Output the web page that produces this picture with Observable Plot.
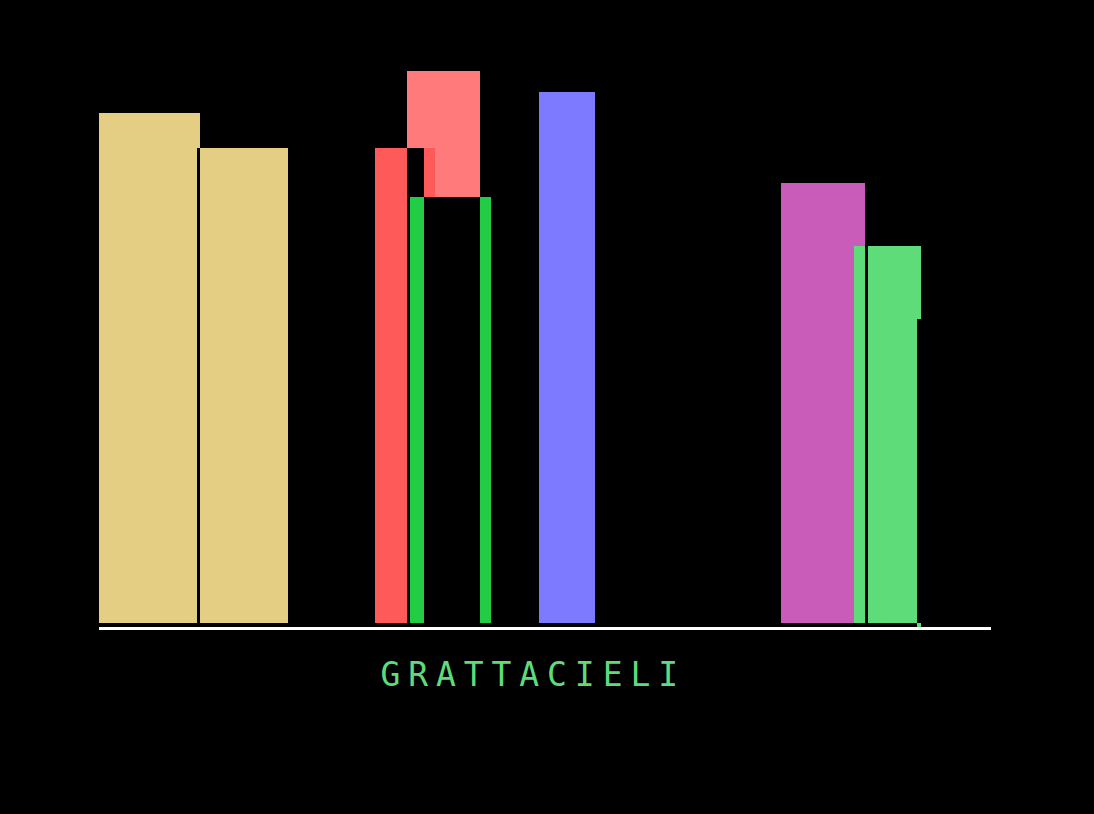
<!DOCTYPE html>
<html>
<head>
<meta charset="utf-8">
<script src="https://cdn.jsdelivr.net/npm/d3@7"></script>
<script src="https://cdn.jsdelivr.net/npm/@observablehq/plot@0.6"></script>
<style>
  html, body { margin: 0; padding: 0; background: #000; }
  #chart svg { display: block; }
</style>
</head>
<body>
<div id="chart"></div>
<script>
// Skyscraper pieces, drawn in order (later pieces paint over earlier ones).
// x in horizontal units, y as height above the ground line.
const pieceName   = ["tan tall", "tan gap", "tan short", "pink top", "red tower", "red window", "green frame", "green hollow", "blue tower", "purple tower", "light green", "light green gap", "light green notch", "light green foot", "ground"];
const pieceX1     = [99, 197, 200, 407, 375, 407, 410, 424, 539, 781, 854, 865, 917, 917, 99];
const pieceX2     = [200, 200, 288, 480, 435, 424, 491, 480, 595, 865, 921, 868, 921, 921, 991];
const pieceTop    = [510, 475, 475, 552, 475, 475, 426, 426, 531, 440, 377, 377, 304, 0, -4];
const pieceBottom = [0, 0, 0, 426, 0, 0, 0, 0, 0, 0, 0, 0, 0, -4, -7];
const pieceColor  = ["#e3ce84", "#000000", "#e3ce84", "#ff7a7a", "#ff5a5a", "#000000", "#22cc44", "#000000", "#7e7aff", "#c85cb8", "#5edc7a", "#000000", "#000000", "#5edc7a", "#ffffff"];

const titleText = ["GRATTACIELI"];
const titleX = [380];
const titleY = [-52];

const pieces = pieceName.map((n, i) => ({
  name: n, x1: pieceX1[i], x2: pieceX2[i], y1: pieceBottom[i], y2: pieceTop[i], color: pieceColor[i]
}));
const titles = titleText.map((t, i) => ({text: t, x: titleX[i], y: titleY[i]}));

const chart = Plot.plot({
  width: 1094,
  height: 814,
  margin: 0,
  style: {background: "#000", shapeRendering: "crispEdges"},
  x: {domain: [0, 1094], axis: null},
  y: {domain: [-191, 623], axis: null},
  color: {type: "identity"},
  marks: [
    Plot.rect(pieces, {x1: "x1", x2: "x2", y1: "y1", y2: "y2", fill: "color"}),
    Plot.text(titles, {
      x: "x", y: "y", text: "text",
      textAnchor: "start",
      fill: "#5edc7a",
      fontSize: 33,
      fontFamily: "DejaVu Sans Mono",
      style: {letterSpacing: "7.9px"}
    })
  ]
});
chart.querySelectorAll("text").forEach(t => t.setAttribute("letter-spacing", "7.9px"));
document.getElementById("chart").appendChild(chart);
</script>
</body>
</html>
